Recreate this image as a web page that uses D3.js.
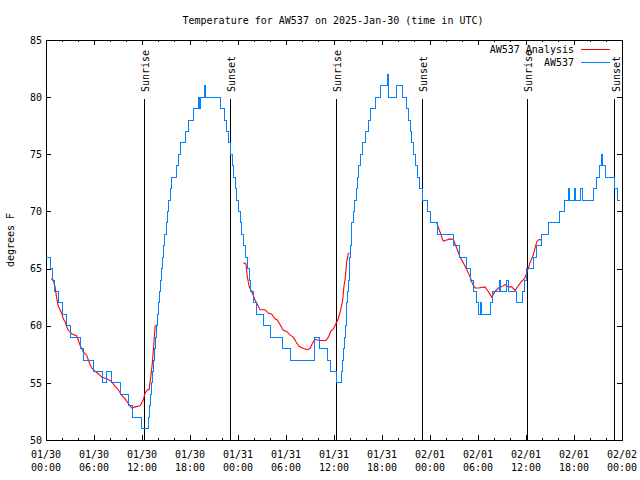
<!DOCTYPE html>
<html>
<head>
<meta charset="utf-8">
<script src="https://cdn.jsdelivr.net/npm/d3@7"></script>
<style>
  html, body { margin: 0; padding: 0; background: #fff; }
  svg { display: block; }
  text { font-family: "DejaVu Sans Mono", "Liberation Mono", monospace; font-size: 10px; fill: #000; }
</style>
</head>
<body>
<svg id="chart" width="640" height="480"></svg>
<script>
// ---------- DATA (hours since 2025-01-30 00:00 UTC) ----------
const titleText = "Temperature for AW537 on 2025-Jan-30 (time in UTC)";
const yLabel = "degrees F";
const majorTickHours = [0, 6, 12, 18, 24, 30, 36, 42, 48, 54, 60, 66, 72];
const tickDates = ["01/30","01/30","01/30","01/30","01/31","01/31","01/31","01/31","02/01","02/01","02/01","02/01","02/02"];
const tickTimes = ["00:00","06:00","12:00","18:00","00:00","06:00","12:00","18:00","00:00","06:00","12:00","18:00","00:00"];
const yTicks = [50, 55, 60, 65, 70, 75, 80, 85];

const sunNames = ["Sunrise","Sunset","Sunrise","Sunset","Sunrise","Sunset"];
const sunHours = [12.29, 23.06, 36.29, 47.04, 60.16, 71.09];

// AW537 observations (stepped)
const obsHours = [0,0.5,0.84,1.09,1.59,2.0,2.5,3.09,4.34,4.66,5.91,7.09,7.5,8.21,9.25,10.25,10.75,11.88,12.79,12.94,13.06,13.15,13.25,13.38,13.5,13.63,13.75,13.88,14.04,14.15,14.25,14.38,14.5,14.66,14.81,15.0,15.16,15.29,15.5,15.71,16.25,16.5,16.75,17.44,17.81,18.38,19.04,19.19,19.31,19.75,19.88,21.84,22.25,22.56,22.75,23.0,23.25,23.44,23.63,23.84,24.04,24.25,24.46,24.66,24.88,25.19,25.44,25.56,25.91,26.31,27.16,28.0,29.5,30.5,33.5,34.13,35.13,35.5,36.31,36.88,37.0,37.13,37.31,37.44,37.5,37.59,37.69,37.79,37.88,37.96,38.03,38.13,38.21,38.38,38.56,38.75,38.94,39.06,39.31,39.56,39.94,40.25,40.5,41.13,41.84,42.66,42.81,43.81,44.5,45.09,45.29,45.5,45.71,45.91,46.16,46.38,46.63,47.04,47.63,48.06,48.88,50.94,51.69,52.5,53.0,53.38,53.75,54.0,54.31,54.44,55.5,55.81,56.63,56.81,57.5,57.75,58.81,59.5,59.81,60.06,60.88,61.31,61.94,62.81,64.13,64.85,65.29,65.44,66.0,66.21,66.84,67.0,68.44,68.81,69.19,69.41,69.59,69.94,71.06,71.38,71.75];
const obsTemps = [66,65,64,63,62,61,60,59,58,57,56,55,56,55,54,53,52,51,52,53,54,55,56,57,58,59,60,61,62,63,64,65,66,67,68,69,70,71,72,73,74,75,76,77,78,79,80,79,80,81,80,79,78,77,76,75,74,73,72,71,70,69,68,67,66,65,64,63,62,61,60,59,58,57,59,58,57,56,55,56,57,58,59,60,61,62,63,64,65,66,67,68,69,70,71,72,73,74,75,76,77,78,79,80,81,82,80,81,80,79,78,77,76,75,74,73,72,71,70,69,68,67,66,65,64,63,62,61,62,61,62,63,64,63,64,63,62,63,64,65,66,67,68,69,70,71,72,71,72,71,72,71,72,73,74,75,74,73,72,71,71];

// AW537 Analysis (three segments)
const anaHoursA = [0.63,0.91,1.13,1.34,1.54,1.75,1.96,2.16,2.38,2.59,2.79,3.21,3.84,4.04,4.25,4.66,5.09,5.29,5.5,5.71,6.13,6.54,6.96,7.38,7.79,8.21,8.63,9.04,9.46,9.88,10.29,10.71,11.13,11.75,12.16,12.38,12.66,12.88,13.09,13.29,13.5,13.63,13.84];
const anaTempsA = [64.1,64,63.4,62.4,61.7,61.4,61.1,60.6,60.35,59.9,59.6,59.3,59.1,58.75,58.3,57.7,57.4,57,56.6,56.3,56.0,55.8,55.5,55.4,55.3,55.1,54.7,54.4,53.9,53.6,53.2,52.8,52.9,53.0,53.5,54.1,54.4,54.4,55.5,56.7,58.6,59.9,60.1];
const anaHoursB = [24.66,25.0,25.16,25.41,25.71,26.13,26.54,26.75,27.38,27.79,28.21,28.63,28.91,29.25,29.66,30.09,30.5,30.91,31.25,31.63,32.16,32.66,33.0,33.34,33.63,33.91,34.25,35.0,35.29,35.63,35.91,36.25,36.54,36.84,37.09,37.25,37.38,37.59,37.79,37.94];
const anaTempsB = [65.5,65.4,64.3,63.4,63,62.25,61.7,61.4,61.4,61.1,61.0,60.6,60.5,60.1,59.6,59.5,59.2,59.0,58.6,58.2,58.0,57.9,58.0,58.5,58.8,58.75,58.7,58.7,59,59.55,59.7,60.2,60.6,61.4,62.25,63.5,64,65.6,66.3,66.4];
const anaHoursC = [48.84,49.25,49.66,50.09,50.5,50.91,51.34,51.75,52.16,52.59,53.0,53.29,53.63,54.04,54.88,55.29,55.71,56.13,56.54,56.96,57.38,57.79,58.21,58.63,59.04,59.46,59.79,60.09,60.5,60.91,61.34,61.66,61.88];
const anaTempsC = [69,68.2,67.4,67.5,67.6,67.55,66.8,66.0,65.5,64.9,64.3,63.7,63.3,63.3,63.4,63.0,62.5,63,63.3,63.4,63.6,63.4,63.4,63.1,63.5,63.9,64.1,64.6,65.5,66.2,67.35,67.55,67.5];

const seriesNames = ["AW537 Analysis", "AW537"];
const seriesColors = ["#ff0000", "#0080ff"];

// ---------- LAYOUT ----------
const L = 46, R = 622, T = 40, B = 440;
const svg = d3.select("#chart");
const x = d3.scaleLinear().domain([0, 72]).range([L, R]);
const y = d3.scaleLinear().domain([50, 85]).range([B, T]);

const minorHours = d3.range(0, 73, 2).filter(h => h % 6 !== 0);

// Title
svg.append("text").attr("x", 333).attr("y", 24).attr("text-anchor", "middle").text(titleText);

// Y label
svg.append("text").attr("transform", "translate(14,240) rotate(-90)")
  .attr("text-anchor", "middle").text(yLabel);

// Axes
const axG = svg.append("g").attr("shape-rendering", "crispEdges");
function styleAxis(g) {
  g.select(".domain").remove();
  g.selectAll(".tick line").attr("stroke", "#000");
}
axG.append("g").attr("transform", `translate(0,${B})`)
  .call(d3.axisBottom(x).tickValues(majorTickHours).tickSize(-5).tickFormat(""))
  .call(styleAxis);
axG.append("g").attr("transform", `translate(0,${B})`)
  .call(d3.axisBottom(x).tickValues(minorHours).tickSize(-2).tickFormat(""))
  .call(styleAxis);
axG.append("g").attr("transform", `translate(0,${T})`)
  .call(d3.axisTop(x).tickValues(majorTickHours).tickSize(-5).tickFormat(""))
  .call(styleAxis);
axG.append("g").attr("transform", `translate(0,${T})`)
  .call(d3.axisTop(x).tickValues(minorHours).tickSize(-2).tickFormat(""))
  .call(styleAxis);
const leftAx = axG.append("g").attr("transform", `translate(${L},0)`)
  .call(d3.axisLeft(y).tickValues(yTicks).tickSize(-5).tickPadding(4))
  .call(styleAxis);
leftAx.attr("font-family", null).attr("font-size", null);
leftAx.selectAll("text").attr("fill", "#000");
axG.append("g").attr("transform", `translate(${R},0)`)
  .call(d3.axisRight(y).tickValues(yTicks).tickSize(-5).tickFormat(""))
  .call(styleAxis);

// Bottom two-line labels
const lab = svg.append("g");
majorTickHours.forEach((h, i) => {
  const t = lab.append("text").attr("text-anchor", "middle").attr("x", x(h));
  t.append("tspan").attr("x", x(h)).attr("y", 458).text(tickDates[i]);
  t.append("tspan").attr("x", x(h)).attr("y", 471).text(tickTimes[i]);
});

// Sunrise / sunset lines
const sunG = svg.append("g");
sunHours.forEach((h, i) => {
  sunG.append("line").attr("x1", x(h)).attr("x2", x(h)).attr("y1", 99).attr("y2", B)
    .attr("stroke", "#000").attr("shape-rendering", "crispEdges");
  sunG.append("text").attr("transform", `translate(${x(h) + 5},92) rotate(-90)`)
    .attr("text-anchor", "start").text(sunNames[i]);
});

// Plot border
svg.append("rect").attr("x", L).attr("y", T).attr("width", R - L).attr("height", B - T)
  .attr("fill", "none").attr("stroke", "#000").attr("shape-rendering", "crispEdges");

// Analysis (red)
const lineLin = d3.line().x(d => x(d[0])).y(d => y(d[1]));
[[anaHoursA, anaTempsA], [anaHoursB, anaTempsB], [anaHoursC, anaTempsC]].forEach(([hs, ts]) => {
  svg.append("path").datum(hs.map((h, i) => [h, ts[i]]))
    .attr("d", lineLin).attr("fill", "none").attr("stroke", seriesColors[0]).attr("stroke-width", 1.1);
});

// Observations (blue)
const lineStep = d3.line().x(d => x(d[0])).y(d => y(d[1])).curve(d3.curveStepAfter);
svg.append("path").datum(obsHours.map((h, i) => [h, obsTemps[i]]))
  .attr("d", lineStep).attr("fill", "none").attr("stroke", seriesColors[1]).attr("stroke-width", 1)
  .attr("shape-rendering", "crispEdges");

// Legend
const legY = [49, 62];
seriesNames.forEach((n, i) => {
  svg.append("text").attr("x", 574).attr("y", legY[i]).attr("dy", "0.35em")
    .attr("text-anchor", "end").text(n);
  svg.append("line").attr("x1", 581).attr("x2", 610).attr("y1", legY[i]).attr("y2", legY[i])
    .attr("stroke", seriesColors[i]).attr("shape-rendering", "crispEdges");
});
</script>
</body>
</html>
